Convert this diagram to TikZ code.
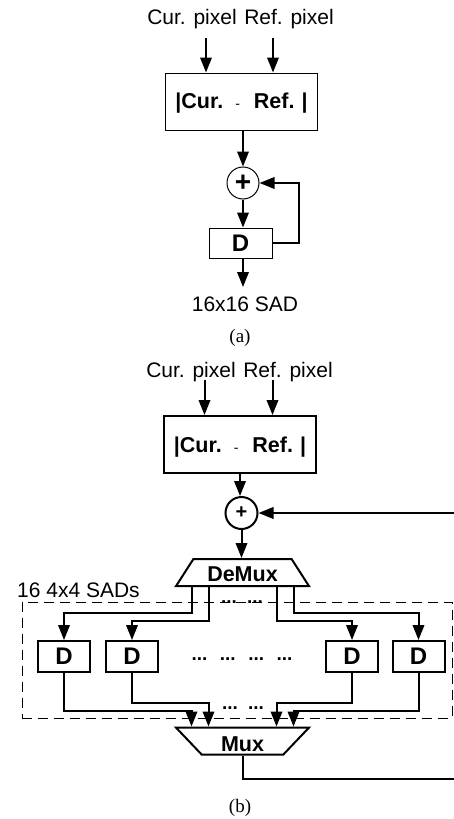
\documentclass[tikz,border=0pt]{standalone}
\usepackage{fontspec}
\setmainfont{Liberation Serif}
\setsansfont{Liberation Sans}
\usetikzlibrary{arrows.meta,shapes.geometric}

\begin{document}
\begin{tikzpicture}[
  x=1pt,y=-1pt,
  bus/.style={line width=2pt,-{Triangle[length=15pt,width=11.5pt]}},
  wire/.style={line width=2pt},
  lbl/.style={inner sep=0pt,font=\fontsize{21}{24}\selectfont\sffamily},
  subcap/.style={inner sep=0pt,font=\fontsize{19}{22}\selectfont\rmfamily},
  boldlbl/.style={inner sep=0pt,font=\fontsize{21.5}{24}\selectfont\sffamily\bfseries},
  dotrow/.style={inner sep=0pt,anchor=base,font=\fontsize{19}{22}\selectfont\sffamily\bfseries},
  block/.style 2 args={draw,inner sep=0pt,line width=#1,minimum width=#2},
  unit/.style={block={2pt}{52pt},minimum height=31pt,boldlbl},
  diffbox/.style={block={#1}{152pt},minimum height=57pt,boldlbl},
  adder/.style={draw,circle,inner sep=0pt,minimum size=32pt,boldlbl},
  muxbox/.style={draw,trapezium,trapezium stretches=true,inner sep=0pt,line width=2pt,
    minimum width=134pt,minimum height=27pt,boldlbl}
]
\useasboundingbox (0,0) rectangle (454,819);
% (a)
\node[lbl] (curA) at (192,19) {Cur. pixel};
\node[lbl] (refA) at (289,19) {Ref. pixel};
\coordinate (curAin) at (206,38);
\coordinate (refAin) at (273,38);
\node[diffbox=1pt] (absA) at (241.5,101.5) {\raisebox{-7.2pt}[0pt][0pt]{|Cur.\hspace{12pt}\textmd{\fontsize{14}{14}\selectfont -}\hspace{14pt}Ref.\hspace{7pt}|}};
\node[adder,line width=1pt,font=\fontsize{28}{28}\selectfont\sffamily\bfseries] (addA) at (243,183) {+};
\node[block={1pt}{63pt},minimum height=30pt,boldlbl,font=\fontsize{24}{24}\selectfont\sffamily\bfseries] (regA) at (240.5,243) {D};
\node[lbl] (sadA) at (245,304) {16x16 SAD};
\node[subcap] (capA) at (240,338) {(a)};
\coordinate (loopA) at (299,183);
\coordinate (sadAin) at (243,287);
\draw[bus] (curAin) -- (curAin |- absA.north);
\draw[bus] (refAin) -- (refAin |- absA.north);
\draw[bus] (addA |- absA.south) -- (addA.north);
\draw[bus] (addA.south) -- (addA.south |- regA.north);
\draw[bus] (addA.south |- regA.south) -- (sadAin);
\draw[bus] (regA.east) -| (loopA) -- (addA.east);
% (b)
\node[lbl] (curB) at (191,372) {Cur. pixel};
\node[lbl] (refB) at (288,372) {Ref. pixel};
\coordinate (curBin) at (204.5,380);
\coordinate (refBin) at (272.5,380);
\node[diffbox=2pt] (absB) at (240,444.5) {\raisebox{-8.2pt}[0pt][0pt]{|Cur.\hspace{12pt}\textmd{\fontsize{14}{14}\selectfont -}\hspace{14pt}Ref.\hspace{7pt}|}};
\node[adder,line width=2pt,font=\fontsize{20}{20}\selectfont\sffamily\bfseries] (addB) at (241.5,513) {+};
\node[muxbox] (demux) at (242.5,572.5) {\raisebox{0pt}[20pt][1.6pt]{DeMux}};
\node[muxbox,shape border rotate=180] (mux) at (242.5,741) {\raisebox{0pt}[22.4pt][1pt]{Mux}};
\node[draw,dash pattern=on 10pt off 6pt,inner sep=0pt,line width=1pt,
  minimum width=430pt,minimum height=116pt] (sads) at (237,660) {};
\node[lbl,anchor=west] (sadB) at (17,590) {16 4x4 SADs};
\foreach \n/\x in {d1/64,d2/132,d3/352,d4/418.5}
  \node[unit,font=\fontsize{24}{24}\selectfont\sffamily\bfseries] (\n) at (\x,656.5) {D};
\node[dotrow] (dotsT) at (242,603) {...\hspace{10pt}...};
\node[dotrow] (dotsM) at (242,660) {...\hspace{12.5pt}...\hspace{12.5pt}...\hspace{12.5pt}...};
\node[dotrow] (dotsL) at (243,709) {...\hspace{10pt}...};
\node[subcap] (capB) at (240,808) {(b)};
\draw[bus] (curBin) -- (curBin |- absB.north);
\draw[bus] (refBin) -- (refBin |- absB.north);
\draw[bus] (absB.south) -- (absB.south |- addB.north);
\draw[bus] (addB.south) -- (addB.south |- demux.north);
\coordinate (fbEnd) at (454,513);
\coordinate (outEnd) at (454,779);
\draw[bus] (fbEnd) -- (addB.east);
\foreach \n/\dx/\dy in {d1/-51/26,d2/-34/34,d3/34/34,d4/51/26}{
  \draw[bus] ([xshift=\dx pt]demux.south) -- ++(0,\dy) -| (\n.north);
  \draw[bus] (\n.south) -- ++(0,64-\dy) -| ([xshift=\dx pt]mux.north);
}
\draw[wire] (mux.south) |- (outEnd);
\end{tikzpicture}
\end{document}
